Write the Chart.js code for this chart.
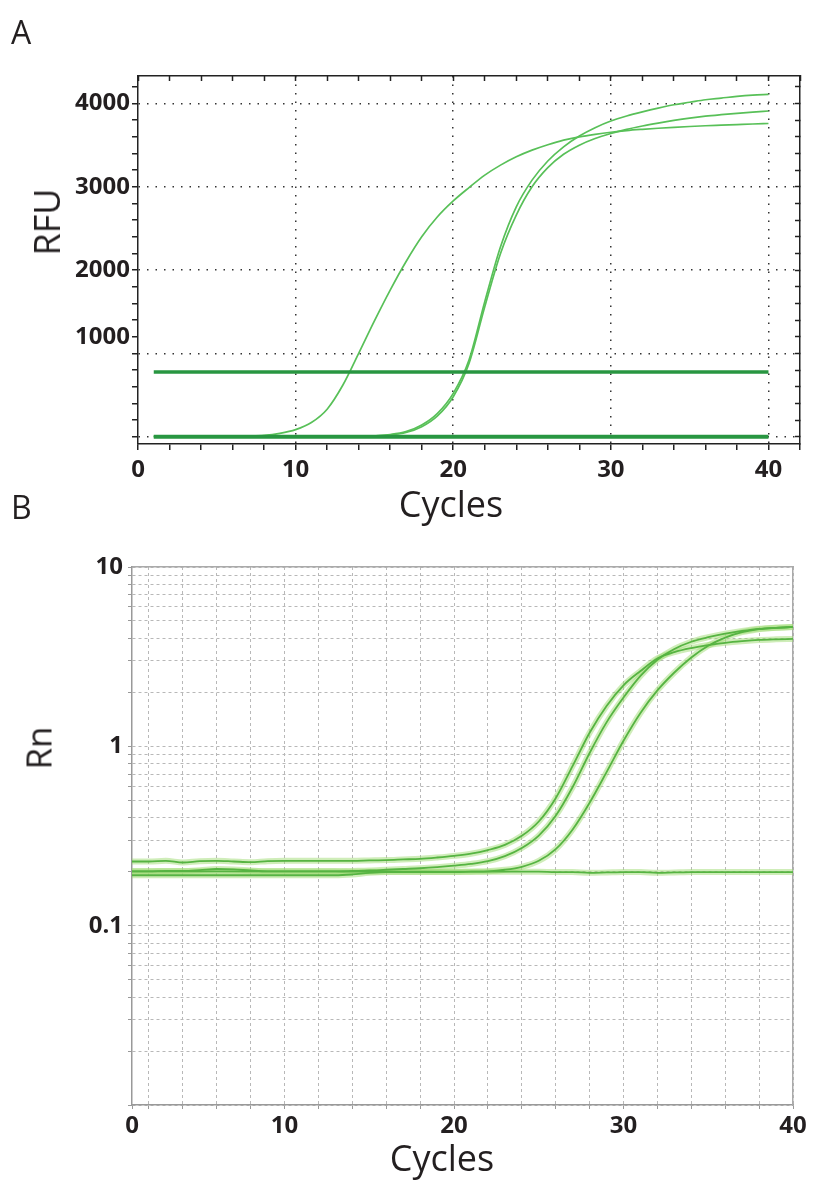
<!DOCTYPE html>
<html>
<head>
<meta charset="utf-8">
<script src="https://cdn.jsdelivr.net/npm/chart.js@4.4.1/dist/chart.umd.min.js"></script>
<style>
  html, body { margin: 0; padding: 0; background: #fff; }
  body { width: 818px; height: 1188px; position: relative; overflow: hidden; font-family: "Open Sans", sans-serif; color: #231f20; }
  .panel { position: absolute; left: 0; width: 818px; }
  #panelA { top: 0; height: 540px; }
  #panelB { top: 540px; height: 648px; }
  .letter { position: absolute; left: 11px; font-size: 32px; line-height: 1; z-index: 2; }
  .title { position: absolute; line-height: 1; white-space: nowrap; z-index: 2; transform: translate(-50%, -50%); }
  .title.rot { transform: translate(-50%, -50%) rotate(-90deg); }
</style>
</head>
<body>
<div class="panel" id="panelA"><canvas id="chartA"></canvas></div>
<div class="panel" id="panelB"><canvas id="chartB"></canvas></div>
<div class="letter" style="top:16px">A</div>
<div class="letter" style="top:491px">B</div>
<div class="title rot" style="left:47px; top:222px; font-size:36px">RFU</div>
<div class="title" style="left:451px; top:504px; font-size:36px">Cycles</div>
<div class="title rot" style="left:38px; top:748px; font-size:35px">Rn</div>
<div class="title" style="left:442px; top:1158px; font-size:36px">Cycles</div>
<script>
const cycles = [1, 2, 3, 4, 5, 6, 7, 8, 9, 10, 11, 12, 13, 14, 15, 16, 17, 18, 19, 20,
                21, 22, 23, 24, 25, 26, 27, 28, 29, 30, 31, 32, 33, 34, 35, 36, 37, 38, 39, 40];

// Panel A - RFU, linear
const rfuEarly = [5, 5, 5, 5, 5, 5, 8, 15, 40, 85, 170, 330, 620, 1000, 1390, 1760, 2100, 2400, 2640, 2830,
                  2990, 3140, 3260, 3360, 3440, 3505, 3560, 3600, 3630, 3655, 3675, 3690, 3703, 3714, 3724, 3733, 3740, 3747, 3754, 3760];
const rfuLate1 = [0, 0, 0, 0, 0, 0, 0, 0, 0, 0, 0, 0, 0, 0, 10, 25, 60, 140, 280, 520,
                  920, 1620, 2280, 2760, 3080, 3310, 3480, 3610, 3710, 3790, 3850, 3900, 3945, 3985, 4015, 4045, 4065, 4085, 4100, 4110];
const rfuLate2 = [0, 0, 0, 0, 0, 0, 0, 0, 0, 0, 0, 0, 0, 0, 8, 20, 50, 120, 250, 480,
                  880, 1560, 2200, 2660, 3000, 3230, 3390, 3500, 3580, 3640, 3690, 3730, 3765, 3797, 3825, 3848, 3866, 3882, 3897, 3910];
const rfuNeg = [0, 0, 0, 0, 0, 0, 0, 0, 0, 0, 0, 0, 0, 0, 0, 0, 0, 0, 0, 0,
                0, 0, 0, 0, 0, 0, 0, 0, 0, 0, 0, 0, 0, 0, 0, 0, 0, 0, 0, 0];
const rfuThreshold = 776;
const rfuTickValues = [4000, 3000, 2000, 1200];
const rfuTickLabels = ["4000", "3000", "2000", "1000"];
const rfuGridValues = [0, 1000, 2000, 3000, 4000];
const cycleGridA = [10, 20, 30, 40];
const cycleLabelsA = [0, 10, 20, 30, 40];

// Panel B - Rn, log
const rnS1 = [0.228, 0.228, 0.230, 0.225, 0.229, 0.230, 0.228, 0.226, 0.229, 0.230, 0.230, 0.230, 0.230, 0.230, 0.231, 0.232, 0.234, 0.236, 0.240, 0.245,
              0.252, 0.264, 0.282, 0.317, 0.381, 0.514, 0.778, 1.19, 1.68, 2.19, 2.63, 3.09, 3.35, 3.53, 3.67, 3.78, 3.86, 3.92, 3.95, 3.97];
const rnS2 = [0.201, 0.201, 0.201, 0.201, 0.201, 0.201, 0.201, 0.201, 0.201, 0.201, 0.201, 0.201, 0.201, 0.202, 0.203, 0.205, 0.207, 0.209, 0.212, 0.216,
              0.221, 0.229, 0.244, 0.271, 0.318, 0.41, 0.593, 0.918, 1.36, 1.87, 2.47, 3.04, 3.49, 3.83, 4.06, 4.25, 4.40, 4.52, 4.58, 4.63];
const rnS3 = [0.191, 0.191, 0.191, 0.191, 0.191, 0.191, 0.191, 0.191, 0.191, 0.191, 0.191, 0.191, 0.191, 0.193, 0.197, 0.199, 0.199, 0.199, 0.199, 0.199,
              0.200, 0.201, 0.205, 0.213, 0.23, 0.267, 0.344, 0.485, 0.718, 1.074, 1.535, 2.05, 2.58, 3.13, 3.64, 4.04, 4.33, 4.50, 4.58, 4.63];
const rnNeg = [0.201, 0.201, 0.202, 0.202, 0.204, 0.207, 0.206, 0.203, 0.201, 0.201, 0.201, 0.201, 0.201, 0.200, 0.200, 0.200, 0.200, 0.200, 0.200, 0.200,
               0.200, 0.200, 0.200, 0.200, 0.200, 0.199, 0.199, 0.197, 0.198, 0.199, 0.199, 0.197, 0.198, 0.199, 0.199, 0.199, 0.199, 0.199, 0.199, 0.199];
const rnTickValues = [10, 1, 0.1];
const rnTickLabels = ["10", "1", "0.1"];
const cycleTickValuesB = [1, 10, 20, 30, 40];
const cycleLabelsB = ["0", "10", "20", "30", "40"];

Chart.defaults.font.family = '"Open Sans", sans-serif';
Chart.defaults.color = "#231f20";

const tickFont = {size: 24, weight: "bold"};
const pts = ys => ys.map((y, i) => ({x: cycles[i], y: y}));

const curveGreen = "rgb(88, 192, 88)";
const darkGreen = "rgb(40, 150, 65)";

function lineSet(data, color, width, order) {
    return {
        data: data,
        borderColor: color,
        borderWidth: width,
        pointRadius: 0,
        fill: false,
        cubicInterpolationMode: "monotone",
        order: order || 0
    };
}

// tick marks every 2 cycles / every 200 RFU
const xTicksA = [];
for (let v = 0; v <= 42; v += 2) xTicksA.push({value: v});
const yTicksA = [];
for (let v = 0; v <= 4200; v += 200) yTicksA.push({value: v});

new Chart(document.getElementById("chartA"), {
    type: "line",
    data: {
        datasets: [
            lineSet(cycles.map(c => ({x: c, y: rfuThreshold})), darkGreen, 3.5),
            lineSet(pts(rfuNeg), darkGreen, 4),
            lineSet(pts(rfuEarly), curveGreen, 1.7),
            lineSet(pts(rfuLate1), curveGreen, 1.7),
            lineSet(pts(rfuLate2), curveGreen, 1.7)
        ]
    },
    options: {
        responsive: true,
        maintainAspectRatio: false,
        animation: false,
        layout: {padding: {top: 76, right: 18, left: 0, bottom: 0}},
        plugins: {legend: {display: false}, tooltip: {enabled: false}},
        scales: {
            x: {
                type: "linear", position: "bottom", min: 0, max: 42,
                afterBuildTicks: s => { s.ticks = xTicksA.map(t => ({value: t.value})); },
                afterFit: s => { s.height = 96; },
                grid: {
                    color: ctx => (ctx.tick && cycleGridA.includes(ctx.tick.value)) ? "#333" : "transparent",
                    lineWidth: 1.5, tickColor: "#222", tickLength: 6, tickWidth: 1.5
                },
                border: {display: true, color: "#222", width: 1.5, dash: [1.5, 7]},
                ticks: {
                    autoSkip: false, maxRotation: 0, padding: 6, font: tickFont, color: "#231f20",
                    callback: v => cycleLabelsA.includes(v) ? String(v) : ""
                }
            },
            x2: {
                type: "linear", position: "top", min: 0, max: 42,
                afterBuildTicks: s => { s.ticks = xTicksA.map(t => ({value: t.value})); },
                afterFit: s => { s.height = 0; },
                grid: {drawOnChartArea: false, color: "#222", tickColor: "#222", tickLength: -5, tickWidth: 1.5},
                border: {display: true, color: "#222", width: 1.5},
                ticks: {display: false}
            },
            y: {
                type: "linear", position: "left", min: -88, max: 4330,
                afterBuildTicks: s => { s.ticks = yTicksA.map(t => ({value: t.value})); },
                afterFit: s => { s.width = 138; },
                grid: {
                    color: ctx => (ctx.tick && rfuGridValues.includes(ctx.tick.value)) ? "#333" : "transparent",
                    lineWidth: 1.5, tickColor: "#222", tickLength: 6, tickWidth: 1.5
                },
                border: {display: true, color: "#222", width: 1.5, dash: [1.5, 7]},
                ticks: {
                    autoSkip: false, padding: 2, font: tickFont, color: "#231f20",
                    callback: v => {
                        const i = rfuTickValues.indexOf(v);
                        return i >= 0 ? rfuTickLabels[i] : "";
                    }
                }
            },
            y2: {
                type: "linear", position: "right", min: -88, max: 4330,
                afterBuildTicks: s => { s.ticks = yTicksA.map(t => ({value: t.value})); },
                afterFit: s => { s.width = 0; },
                grid: {drawOnChartArea: false, color: "#222", tickColor: "#222", tickLength: -5, tickWidth: 1.5},
                border: {display: true, color: "#222", width: 1.5},
                ticks: {display: false}
            }
        }
    }
});

// Panel B
const xTicksB = [{value: 1}];
for (let v = 2; v <= 40; v += 2) xTicksB.push({value: v});
const yTicksB = [];
for (let e = -2; e <= 0; e++) {
    for (let m = 1; m <= 9; m++) yTicksB.push({value: Number((m * Math.pow(10, e)).toPrecision(2))});
}
yTicksB.push({value: 10});

const rnHalo = "rgba(160, 220, 115, 0.5)";
const rnCore = "rgb(86, 180, 66)";

function rnPair(ys) {
    return [lineSet(pts(ys), rnHalo, 6, 2), lineSet(pts(ys), rnCore, 1.8, 1)];
}

const gridGrey = "#b8b8b8";

new Chart(document.getElementById("chartB"), {
    type: "line",
    data: {
        datasets: [].concat(rnPair(rnNeg), rnPair(rnS3), rnPair(rnS2), rnPair(rnS1))
    },
    options: {
        responsive: true,
        maintainAspectRatio: false,
        animation: false,
        layout: {padding: {top: 27, right: 25, left: 0, bottom: 0}},
        plugins: {legend: {display: false}, tooltip: {enabled: false}},
        scales: {
            x: {
                type: "linear", position: "bottom", min: 1, max: 40,
                afterBuildTicks: s => { s.ticks = xTicksB.map(t => ({value: t.value})); },
                afterFit: s => { s.height = 83; },
                grid: {
                    color: ctx => (ctx.tick && ctx.tick.value > 1) ? gridGrey : "transparent",
                    lineWidth: 1, tickColor: "#999", tickLength: 4, tickWidth: 1
                },
                border: {display: true, color: "#999", width: 1.5, dash: [3, 3]},
                ticks: {
                    autoSkip: false, maxRotation: 0, padding: 3, font: tickFont, color: "#231f20",
                    callback: v => {
                        const i = cycleTickValuesB.indexOf(v);
                        return i >= 0 ? cycleLabelsB[i] : "";
                    }
                }
            },
            x2: {
                type: "linear", position: "top", min: 1, max: 40,
                afterFit: s => { s.height = 0; },
                grid: {display: false},
                border: {display: true, color: "#aaa", width: 1.5},
                ticks: {display: false}
            },
            y: {
                type: "logarithmic", position: "left", min: 0.01, max: 10,
                afterBuildTicks: s => { s.ticks = yTicksB.map(t => ({value: t.value})); },
                afterFit: s => { s.width = 132; },
                grid: {
                    color: gridGrey, lineWidth: 1, tickColor: "#999", tickLength: 4, tickWidth: 1
                },
                border: {display: true, color: "#999", width: 1.5, dash: [3, 3]},
                ticks: {
                    autoSkip: false, padding: 5, font: tickFont, color: "#231f20",
                    callback: v => {
                        const i = rnTickValues.findIndex(t => Math.abs(t - v) < 1e-9);
                        return i >= 0 ? rnTickLabels[i] : "";
                    }
                }
            },
            y2: {
                type: "linear", position: "right", min: 0, max: 1,
                afterFit: s => { s.width = 0; },
                grid: {display: false},
                border: {display: true, color: "#aaa", width: 1.5},
                ticks: {display: false}
            }
        }
    }
});
</script>
</body>
</html>
